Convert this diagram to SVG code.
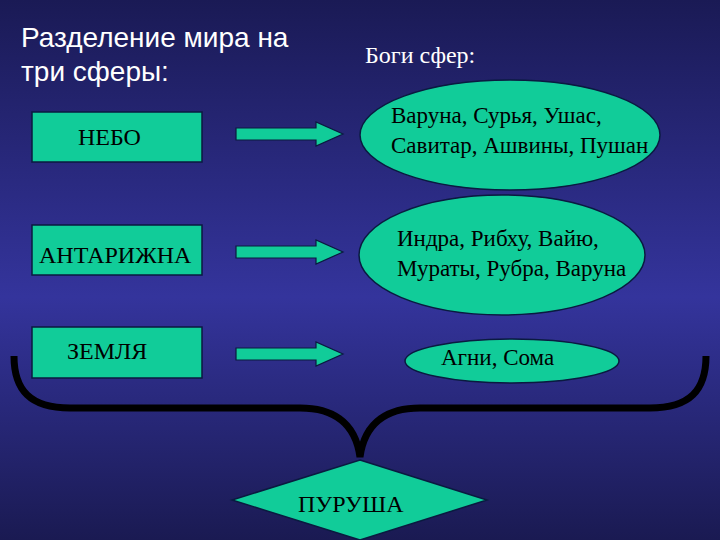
<svg xmlns="http://www.w3.org/2000/svg" width="720" height="540" viewBox="0 0 720 540">
<defs>
<linearGradient id="bg" x1="0" y1="0" x2="0" y2="1">
<stop offset="0" stop-color="#1a1a55"/>
<stop offset="0.55" stop-color="#34349c"/>
<stop offset="1" stop-color="#1a1a52"/>
</linearGradient>
<style>
.n{fill:#11cc99;stroke:#0a1a40;stroke-width:1.5}
.t{font-family:"Liberation Serif",serif;font-size:24px;fill:#000}
.e{font-size:23px}
.w{font-family:"Liberation Sans",sans-serif;font-size:28px;fill:#fff}
.a{fill:#11cc99;stroke:#0a1a40;stroke-width:1.2}
</style>
</defs>
<rect width="720" height="540" fill="url(#bg)"/>
<text class="w" x="21" y="47">Разделение мира на</text>
<text class="w" x="21" y="81">три сферы:</text>
<text x="365" y="63" style="font-family:'Liberation Serif',serif;font-size:24px;fill:#fff">Боги сфер:</text>
<g id="nebo"><rect class="n" x="32" y="112" width="170" height="50"/><text class="t" x="78" y="145">НЕБО</text></g>
<g id="antarizhna"><rect class="n" x="32" y="225" width="170" height="50"/><text class="t" x="39" y="263">АНТАРИЖНА</text></g>
<g id="zemlya"><rect class="n" x="32" y="327" width="170" height="51"/><text class="t" x="67" y="359">ЗЕМЛЯ</text></g>
<g id="e1"><ellipse class="n" cx="510" cy="135" rx="150" ry="55"/><text class="t e" x="391" y="123">Варуна, Сурья, Ушас,</text><text class="t e" x="391" y="153">Савитар, Ашвины, Пушан</text></g>
<g id="e2"><ellipse class="n" cx="502" cy="255" rx="143" ry="60"/><text class="t e" x="397" y="246">Индра, Рибху, Вайю,</text><text class="t e" x="397" y="276">Мураты,  Рубра, Варуна</text></g>
<g id="e3"><ellipse class="n" cx="512" cy="361" rx="107" ry="22"/><text class="t e" x="441" y="365">Агни, Сома</text></g>
<g id="purusha"><polygon class="n" points="360,460 487,500 360,540 232,500"/><text class="t" x="298" y="512">ПУРУША</text></g>
<g id="connectors">
<polygon class="a" points="236,128 316,128 316,122 343,134 316,146 316,140 236,140"/>
<polygon class="a" points="236,246 316,246 316,240 343,252 316,264 316,258 236,258"/>
<polygon class="a" points="236,348 316,348 316,342 343,354 316,366 316,360 236,360"/>
<path d="M14,356 C14,390 30,408 70,408 L300,408 C330,408 355,420 360,457 C365,420 390,408 420,408 L650,408 C690,408 706,390 706,356" fill="none" stroke="#000" stroke-width="7"/>
</g>
</svg>
